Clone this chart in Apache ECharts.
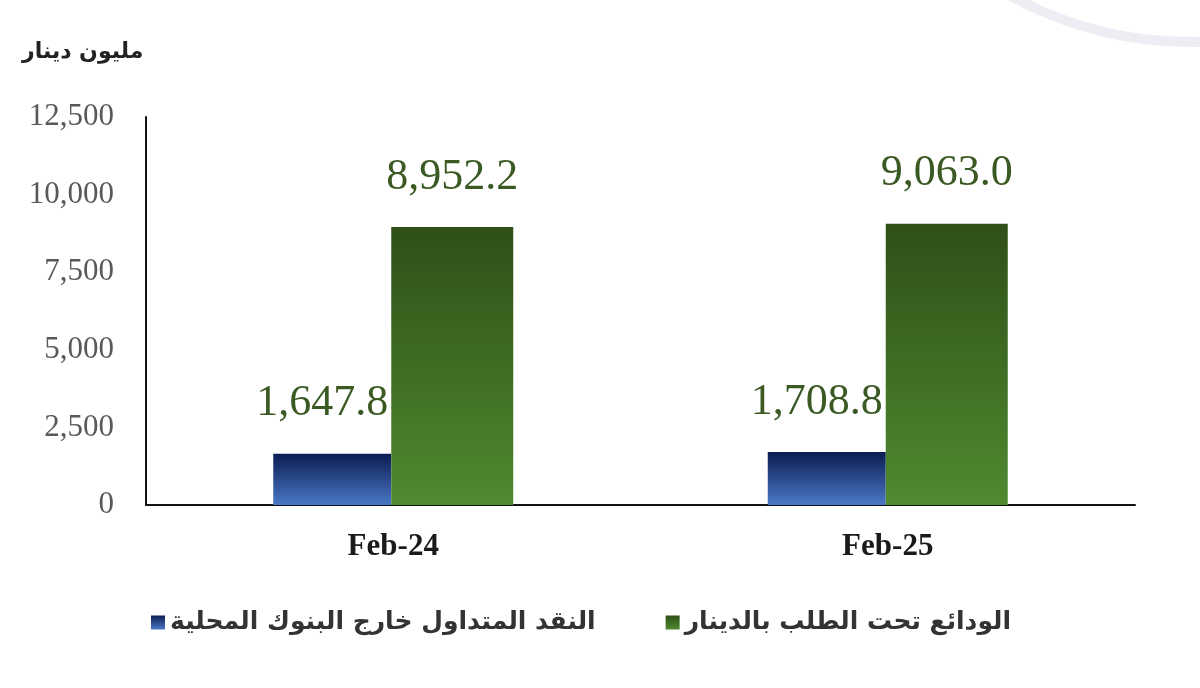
<!DOCTYPE html>
<html><head><meta charset="utf-8">
<script src="https://cdn.jsdelivr.net/npm/echarts@6/dist/echarts.min.js"></script>
<style>html,body{margin:0;padding:0;background:#fff}#c{width:1200px;height:688px}</style>
</head><body><div id="c"></div>
<script>
const categories = ['Feb-24', 'Feb-25'];
const currencyOutside = [1647.8, 1708.8];
const demandDeposits = [8952.2, 9063.0];
const seriesNames = ['النقد المتداول خارج البنوك المحلية', 'الودائع تحت الطلب بالدينار'];
const unitLabel = 'مليون دينار';

const chart = echarts.init(document.getElementById('c'));
const fmt = v => v.toLocaleString('en-US', {minimumFractionDigits: 1, maximumFractionDigits: 1});
const labelBase = {show: true, position: 'top', distance: 28, color: '#3b5a23', fontFamily: 'Liberation Serif', fontSize: 44, formatter: p => fmt(p.value)};
chart.setOption({
  animation: false,
  graphic: [
    {type: 'text', left: 22, top: 41, style: {text: unitLabel, font: 'bold 22px "DejaVu Sans"', fill: '#222'}},
    {type: 'arc', shape: {cx: 1190, cy: -330, r: 372, startAngle: Math.PI * 0.36, endAngle: Math.PI * 0.72}, style: {stroke: '#eceef4', lineWidth: 10, fill: null}, silent: true}
  ],
  grid: {left: 146, right: 65, top: 117, bottom: 183},
  legend: {
    left: 146, top: 605, itemWidth: 14, itemHeight: 14, itemGap: 70,
    textStyle: {fontFamily: 'DejaVu Sans', fontWeight: 'bold', fontSize: 25, color: '#333'},
    data: seriesNames.map(n => ({name: n, icon: 'rect'}))
  },
  xAxis: {
    type: 'category', data: categories,
    axisLine: {lineStyle: {color: '#111', width: 2}},
    axisTick: {show: false},
    axisLabel: {color: '#1a1a1a', fontFamily: 'Liberation Serif', fontWeight: 'bold', fontSize: 31, margin: 26}
  },
  yAxis: {
    type: 'value', min: 0, max: 12500, interval: 2500,
    axisLine: {show: true, lineStyle: {color: '#111', width: 2}},
    axisTick: {show: false},
    splitLine: {show: false},
    axisLabel: {color: '#595959', fontFamily: 'Liberation Serif', fontSize: 31, margin: 32, formatter: v => v.toLocaleString('en-US')}
  },
  series: [
    {name: seriesNames[0], type: 'bar', data: currencyOutside, barWidth: 118, barGap: '0%',
     itemStyle: {color: new echarts.graphic.LinearGradient(0, 0, 0, 1, [{offset: 0, color: '#0b1d52'}, {offset: 1, color: '#4a78c6'}])},
     label: Object.assign({}, labelBase, {offset: [-10, 0]})},
    {name: seriesNames[1], type: 'bar', data: demandDeposits, barWidth: 122,
     itemStyle: {color: new echarts.graphic.LinearGradient(0, 0, 0, 1, [{offset: 0, color: '#2f4f17'}, {offset: 1, color: '#4f8a30'}])},
     label: labelBase}
  ]
});
</script></body></html>
